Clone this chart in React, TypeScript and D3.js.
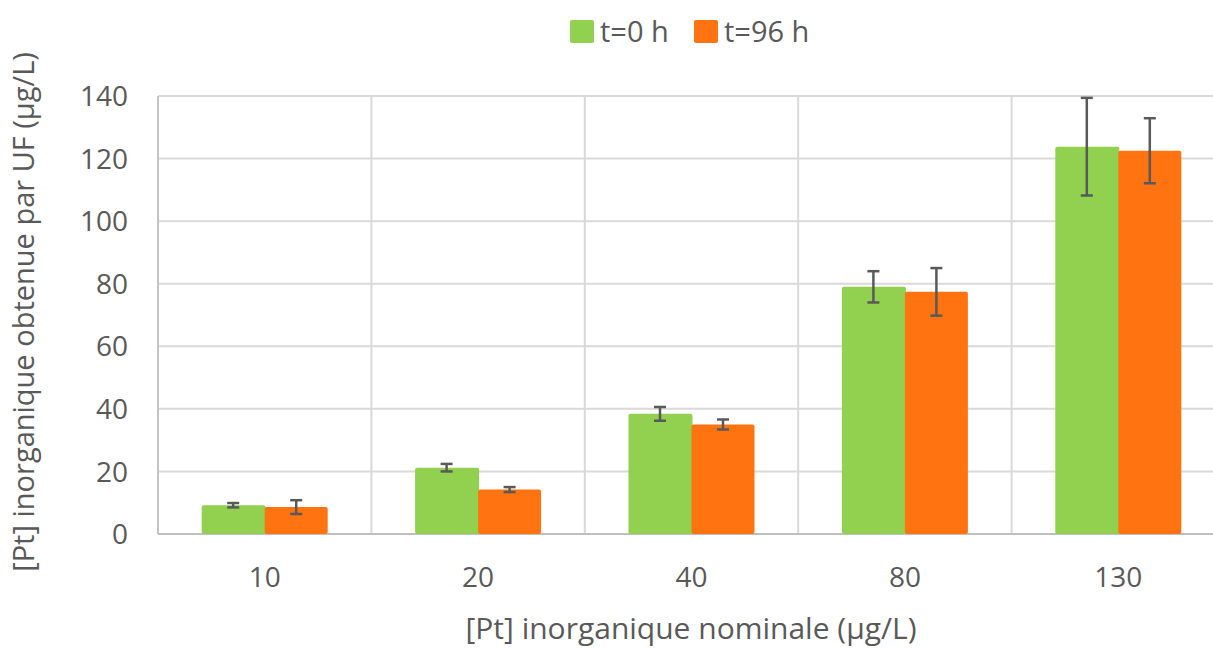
import { scaleBand, scaleLinear } from "d3";

const categories = ["10", "20", "40", "80", "130"];
const seriesNames = ["t=0 h", "t=96 h"];
const t0Values = [9.2, 21.2, 38.4, 79.0, 123.8];
const t0Errors = [0.7, 1.2, 2.2, 5.0, 15.6];
const t96Values = [8.6, 14.2, 35.0, 77.4, 122.5];
const t96Errors = [2.2, 0.8, 1.6, 7.6, 10.4];
const yTicks = [0, 20, 40, 60, 80, 100, 120, 140];

const colors = ["#92D050", "#FF7410"];
const font = "'Open Sans', 'Segoe UI', sans-serif";

export default function App() {
  const width = 1213;
  const height = 650;
  const margin = { top: 96, right: -12, bottom: 116, left: 158 };
  const innerW = width - margin.left - margin.right;
  const innerH = height - margin.top - margin.bottom;

  const x = scaleBand().domain(categories).range([0, innerW]).paddingInner(0).paddingOuter(0);
  const y = scaleLinear().domain([0, 140]).range([innerH, 0]);
  const barW = 63;

  const series = [
    { name: seriesNames[0], values: t0Values, errors: t0Errors, color: colors[0] },
    { name: seriesNames[1], values: t96Values, errors: t96Errors, color: colors[1] },
  ];

  return (
    <svg width={width} height={height} style={{ position: "absolute", left: 0, top: 0, background: "#fff" }}>
      <g transform={`translate(${margin.left}, ${margin.top})`}>
        {yTicks.slice(1).map((t) => (
          <line key={t} x1={0} x2={innerW} y1={y(t)} y2={y(t)} stroke="#d9d9d9" strokeWidth={2} />
        ))}
        {categories.map((c, i) =>
          i === 0 ? null : (
            <line key={c} x1={x(c)!} x2={x(c)!} y1={0} y2={innerH} stroke="#d9d9d9" strokeWidth={2} />
          )
        )}
        <line x1={0} x2={0} y1={0} y2={innerH} stroke="#c4c4c4" strokeWidth={2} />
        <line x1={0} x2={innerW} y1={innerH} y2={innerH} stroke="#bfbfbf" strokeWidth={2} />

        {series.map((s, si) =>
          categories.map((c, i) => {
            const cx = x(c)! + x.bandwidth() / 2;
            const bx = cx - barW + si * barW;
            const v = s.values[i];
            return (
              <rect
                key={`${s.name}-${c}`}
                x={bx}
                y={y(v)}
                width={barW + (si === 0 ? 1 : 0)}
                height={innerH - y(v)}
                rx={2}
                fill={s.color}
              />
            );
          })
        )}

        {series.map((s, si) =>
          categories.map((c, i) => {
            const cx = x(c)! + x.bandwidth() / 2 - barW / 2 + si * barW;
            const hi = y(s.values[i] + s.errors[i]);
            const lo = y(s.values[i] - s.errors[i]);
            return (
              <g key={`err-${s.name}-${c}`} stroke="#595959" strokeWidth={2.5}>
                <line x1={cx} x2={cx} y1={hi} y2={lo} />
                <line x1={cx - 6} x2={cx + 6} y1={hi} y2={hi} />
                <line x1={cx - 6} x2={cx + 6} y1={lo} y2={lo} />
              </g>
            );
          })
        )}

        {yTicks.map((t) => (
          <text key={t} x={-30} y={y(t)} dy="0.36em" textAnchor="end" fill="#595959" fontSize={28} fontFamily={font}>
            {t}
          </text>
        ))}
        {categories.map((c) => (
          <text
            key={c}
            x={x(c)! + x.bandwidth() / 2}
            y={innerH + 53}
            textAnchor="middle"
            fill="#595959"
            fontSize={28}
            fontFamily={font}
          >
            {c}
          </text>
        ))}
        <text
          x={(1224 - margin.left) / 2 + 0}
          y={innerH + 105}
          textAnchor="middle"
          fill="#595959"
          fontSize={30}
          fontFamily={font}
        >
          [Pt] inorganique nominale (µg/L)
        </text>
        <text
          transform={`translate(${-margin.left + 34}, ${innerH / 2 - 3}) rotate(-90)`}
          textAnchor="middle"
          fill="#595959"
          fontSize={29}
          fontFamily={font}
        >
          [Pt] inorganique obtenue par UF (µg/L)
        </text>
      </g>

      <g transform="translate(570, 20)">
        {series.map((s, si) => {
          const ox = si === 0 ? 0 : 124;
          return (
            <g key={s.name} transform={`translate(${ox}, 0)`}>
              <rect x={0} y={0} width={24} height={23} rx={2} fill={s.color} />
              <text x={30} y={12} dy="0.36em" fill="#595959" fontSize={29} fontFamily={font}>
                {s.name}
              </text>
            </g>
          );
        })}
      </g>
    </svg>
  );
}
